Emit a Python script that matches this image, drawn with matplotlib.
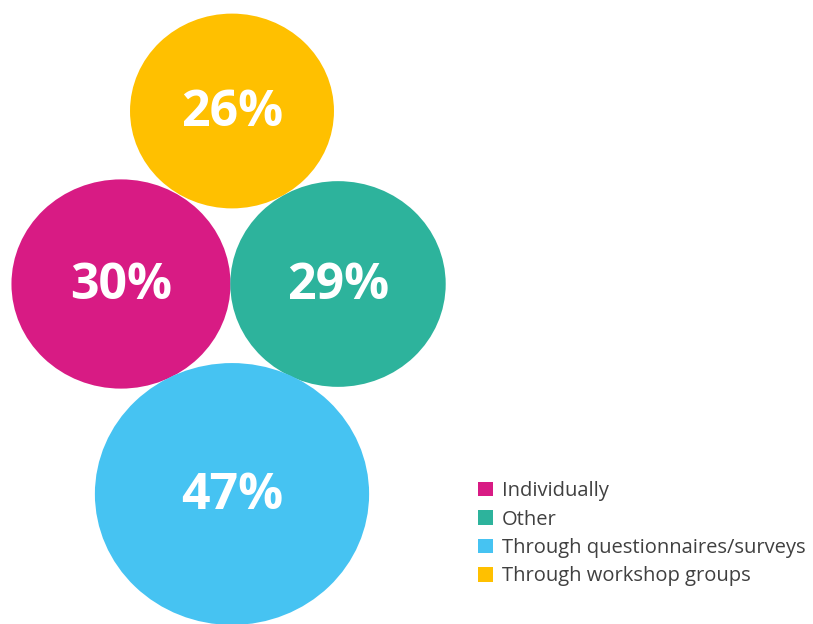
import numpy as np
import matplotlib.pyplot as plt
from matplotlib.patches import Ellipse, Patch

plt.rcParams['font.family'] = ['Open Sans', 'DejaVu Sans']

# Datos
categorias = ["Individually", "Other", "Through questionnaires/surveys", "Through workshop groups"]
valores    = [30, 29, 47, 26]
colores    = ["#D81B84", "#2DB39C", "#46C3F2", "#FFC000"]

# Posicion de cada burbuja (pixeles de la figura)
centros = [(121, 284), (338, 284), (232, 494), (232, 111)]
escala_x = 40.0   # diametro horizontal por sqrt(valor)
escala_y = 38.2   # diametro vertical por sqrt(valor)

fig = plt.figure(figsize=(8.13, 6.24), dpi=100)
ax = fig.add_axes([0, 0, 1, 1])
ax.set_xlim(0, 813)
ax.set_ylim(624, 0)
ax.axis('off')

for val, col, (cx, cy) in zip(valores, colores, centros):
    d = np.sqrt(val)
    ax.add_patch(Ellipse((cx, cy), escala_x*d, escala_y*d, color=col, lw=0))
    ax.text(cx, cy + 2, f"{val}%", color='white', fontsize=36, fontweight='bold',
            ha='center', va='center')

handles = [Patch(facecolor=c, edgecolor='none') for c in colores]
leg = ax.legend(handles, categorias, loc='upper left', bbox_to_anchor=(470/813, 1 - 473/624),
                frameon=False, fontsize=14.5, handlelength=0.72, handleheight=0.72,
                handletextpad=0.45, labelspacing=0.42, borderaxespad=0)
for t in leg.get_texts():
    t.set_color('#404040')

fig.savefig("out.png", dpi=100)
